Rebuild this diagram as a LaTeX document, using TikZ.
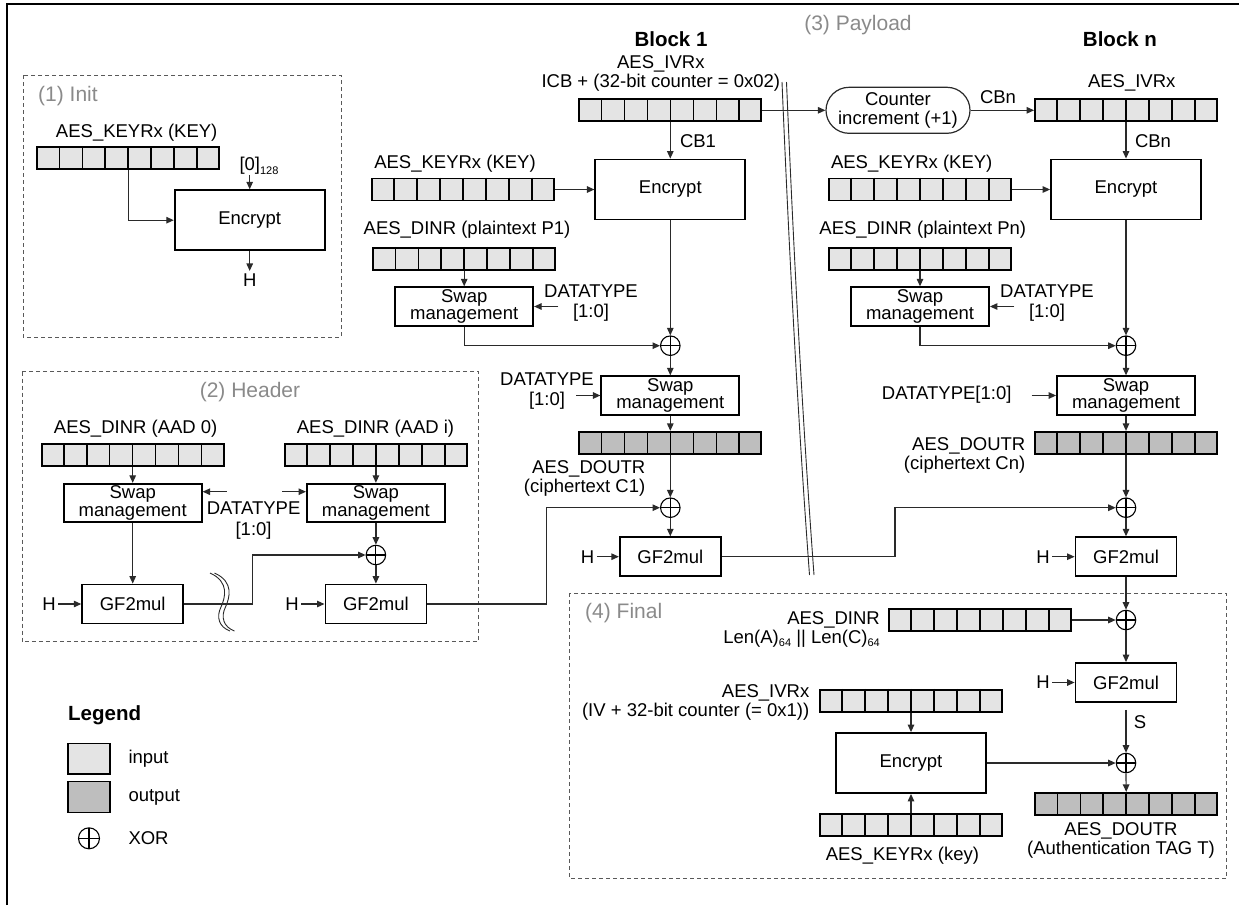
\documentclass[tikz,border=0pt]{standalone}
\usepackage{fontspec}
\setmainfont{Liberation Sans}
\usetikzlibrary{arrows.meta,calc,shapes.misc}
\definecolor{inpc}{HTML}{E4E4E4}
\definecolor{outc}{HTML}{BEBEBE}
\definecolor{ttlc}{HTML}{8A8A8A}
\definecolor{linec}{HTML}{2A2A2A}
\newcommand\myfs{\fontsize{18.5}{19}\selectfont}
\newcommand\mysub[1]{\raisebox{-0.35ex}{\fontsize{11}{11}\selectfont #1}}
\newcommand\myreg[4]{%
  \node[regn, fill=#4] (#1) at (#2,#3) {};
  \foreach \k in {1,...,7}{\draw[celln] ($(#1.north west)!\k/8!(#1.north east)$) -- ($(#1.south west)!\k/8!(#1.south east)$);}
}
\tikzset{
  tx/.style={inner sep=0pt, font=\myfs, align=center},
  dt/.style={inner sep=0pt, font=\fontsize{18.5}{20.5}\selectfont, align=center},
  hl/.style={inner sep=2.5pt, font=\myfs},
  bx/.style={draw=black, line width=1.8pt, inner sep=0pt, align=center, font=\myfs},
  encbox/.style={bx, minimum width=150pt, minimum height=60pt},
  swapbox/.style={bx, minimum width=138pt, minimum height=38.5pt, font=\fontsize{18.5}{17.3}\selectfont},
  gfbox/.style={bx, minimum width=101pt, minimum height=39pt},
  regn/.style={draw=black, line width=1.8pt, minimum width=182pt, minimum height=22pt, inner sep=0pt},
  celln/.style={draw=black, line width=1.5pt},
  xor/.style={circle, draw=black, line width=1.1pt, minimum size=19.5pt, inner sep=0pt,
    path picture={\draw[line width=1.1pt] (path picture bounding box.north) -- (path picture bounding box.south)
      (path picture bounding box.west) -- (path picture bounding box.east);}},
  arr/.style={draw=linec, line width=1.2pt, -{Triangle[length=7.5pt,width=6.5pt]}},
  ln/.style={draw=linec, line width=1pt},
  dbox/.style={draw=black!65, line width=1pt, dash pattern=on 4pt off 3pt},
  ttl/.style={inner sep=0pt, font=\fontsize{21}{21}\selectfont, text=ttlc},
  bld/.style={inner sep=0pt, font=\fontsize{20.5}{21}\selectfont\bfseries},
  cntbox/.style={rounded rectangle, draw=linec, line width=1.2pt, minimum width=144pt, minimum height=46pt, inner sep=0pt, align=center, font=\myfs}
}
\begin{document}
\begin{tikzpicture}[x=1pt,y=-1pt]
\useasboundingbox (0,0) rectangle (1239,905);
% outer frame
\draw[line width=2.8pt] (7,905) -- (7,4) -- (1239,4);
% dashed section boxes
\draw[dbox] (23,75) rectangle (341,337);
\draw[dbox] (22,371.5) rectangle (478.3,641.7);
\draw[dbox] (569.4,593.3) rectangle (1226.7,878.3);

% ---------------- (1) Init
\node[ttl, anchor=west] (tinit) at (38,96) {(1) Init};
\node[tx] (lireg) at (136.7,133) {AES\_KEYRx (KEY)};
\myreg{ireg}{128.2}{158.3}{inpc}
\node[encbox] (ienc) at (249.7,220.2) {Encrypt};
\node[tx] (zero) at (259,166) {[0]\mysub{128}};
\node[hl] (iH) at (249.7,280) {H};
\draw[arr] (ireg.south) |- (ienc.west);
\draw[arr] (zero.south -| ienc.north) -- (ienc.north);
\draw[arr] (ienc.south) -- (iH.north);

% ---------------- (2) Header
\node[ttl] (thdr) at (250,391.7) {(2) Header};
\node[tx] (lh0) at (135.7,428.3) {AES\_DINR (AAD 0)};
\node[tx] (lhi) at (375.5,428.3) {AES\_DINR (AAD i)};
\myreg{h0reg}{132.7}{455}{inpc}
\myreg{hireg}{375.9}{455}{inpc}
\node[swapbox] (h0sw) at (132.7,503) {Swap\\management};
\node[swapbox] (hisw) at (375.9,503) {Swap\\management};
\node[dt] (hdt) at (253.6,520.3) {DATATYPE\\{}[1:0]};
\coordinate (hdl) at (226.8,491.7);
\coordinate (hdr) at (282,491.7);
\draw[arr] (hdl) -- (hdl -| h0sw.east);
\draw[arr] (hdr) -- (hdr -| hisw.west);
\node[xor] (hx) at (375.9,555) {};
\node[gfbox] (h0gf) at (132.7,604) {GF2mul};
\node[gfbox] (higf) at (375.9,604) {GF2mul};
\node[hl] (hH0) at (49,604) {H};
\node[hl] (hHi) at (292,604) {H};
\draw[arr] (h0reg.south) -- (h0sw.north);
\draw[arr] (hireg.south) -- (hisw.north);
\draw[arr] (h0sw.south) -- (h0gf.north);
\draw[arr] (hisw.south) -- (hx.north);
\draw[arr] (hx.south) -- (higf.north);
\draw[arr] (hH0) -- (h0gf);
\draw[arr] (hHi) -- (higf);
\coordinate (hk) at (252.5,0);
\draw[arr] (h0gf.east) -| (hk |- hx.west) -- (hx.west);
% break mark
\draw[ln, line width=0.9pt] (210,573) .. controls (230,582) and (225,598) .. (221,607) .. controls (216,617) and (219,627) .. (230,631);
\draw[ln, line width=0.9pt] (214.5,573) .. controls (234.5,582) and (229.5,598) .. (225.5,607) .. controls (220.5,617) and (223.5,627) .. (234.5,631);

% ---------------- (3) Payload, Block 1
\node[ttl] (tpay) at (858,25) {(3) Payload};
\node[bld] (tb1) at (671,39) {Block 1};
\node[bld] (tbn) at (1120,39) {Block n};
\node[tx] (lb1iv) at (660.8,73.8) {AES\_IVRx\\ICB + (32-bit counter = 0x02)};
\myreg{b1iv}{670.3}{110.3}{inpc}
\node[encbox] (b1enc) at (670.3,189.5) {Encrypt};
\node[tx] (cb1) at (698,140.7) {CB1};
\node[tx] (lb1key) at (455,163.3) {AES\_KEYRx (KEY)};
\myreg{b1key}{462.9}{189.5}{inpc}
\node[tx] (lb1din) at (467,230) {AES\_DINR (plaintext P1)};
\myreg{b1din}{464.2}{258.8}{inpc}
\node[swapbox] (b1sw1) at (464.2,306.5) {Swap\\management};
\node[dt] (b1dt1) at (591,303) {DATATYPE\\{}[1:0]};
\coordinate (b1d1) at (558.3,306.5);
\node[xor] (b1x1) at (670.3,345.7) {};
\node[swapbox] (b1sw2) at (670.3,395.5) {Swap\\management};
\node[dt] (b1dt2) at (547,390.8) {DATATYPE\\{}[1:0]};
\coordinate (b1d2) at (576,395.5);
\myreg{b1out}{670.3}{442.8}{outc}
\node[tx, align=right, anchor=east] (lb1out) at (645.5,478.8) {AES\_DOUTR\\(ciphertext C1)};
\node[xor] (b1x2) at (670.3,507.7) {};
\node[gfbox] (b1gf) at (670.3,556.7) {GF2mul};
\node[hl] (b1H) at (587.5,556.7) {H};
\draw[arr] (b1iv.south) -- (b1enc.north);
\draw[arr] (b1key.east) -- (b1key.east -| b1enc.west);
\draw[arr] (b1din.south) -- (b1sw1.north);
\draw[arr] (b1d1) -- (b1sw1.east |- b1d1);
\draw[arr] (b1sw1.south) |- (b1x1.west);
\draw[arr] (b1enc.south) -- (b1x1.north);
\draw[arr] (b1x1.south) -- (b1sw2.north);
\draw[arr] (b1d2) -- (b1sw2.west |- b1d2);
\draw[arr] (b1sw2.south) -- (b1out.north);
\draw[arr] (b1out.south) -- (b1x2.north);
\draw[arr] (b1x2.south) -- (b1gf.north);
\draw[arr] (b1H) -- (b1gf);
\coordinate (hk2) at (546.7,0);
\draw[arr] (higf.east) -| (hk2 |- b1x2.west) -- (b1x2.west);

% payload break line
\draw[ln, line width=0.9pt] (782,82) .. controls (789,250) and (798,420) .. (809.5,575);
\draw[ln, line width=0.9pt] (786.5,82) .. controls (793.5,250) and (802.5,420) .. (814,575);

% ---------------- Block n
\node[cntbox] (cnt) at (898,110.3) {Counter\\increment (+1)};
\node[tx] (cbn1) at (998,97.3) {CBn};
\node[tx] (lbniv) at (1131.7,83.3) {AES\_IVRx};
\myreg{bniv}{1126}{110.3}{inpc}
\node[encbox] (bnenc) at (1126,189.5) {Encrypt};
\node[tx] (cbn2) at (1153,140.7) {CBn};
\node[tx] (lbnkey) at (911.7,163.3) {AES\_KEYRx (KEY)};
\myreg{bnkey}{920}{189.5}{inpc}
\node[tx] (lbndin) at (922.8,230) {AES\_DINR (plaintext Pn)};
\myreg{bndin}{920}{258.8}{inpc}
\node[swapbox] (bnsw1) at (920,306.5) {Swap\\management};
\node[dt] (bndt1) at (1047,303) {DATATYPE\\{}[1:0]};
\coordinate (bnd1) at (1014.3,306.5);
\node[xor] (bnx1) at (1126,345.7) {};
\node[swapbox] (bnsw2) at (1126,395.5) {Swap\\management};
\node[tx] (bndt2) at (946.7,395) {DATATYPE[1:0]};
\coordinate (bnd2) at (1031.7,395.5);
\myreg{bnout}{1126}{442.8}{outc}
\node[tx, align=right, anchor=east] (lbnout) at (1025.5,455.8) {AES\_DOUTR\\(ciphertext Cn)};
\node[xor] (bnx2) at (1126,507.7) {};
\node[gfbox] (bngf) at (1126,556.7) {GF2mul};
\node[hl] (bnH) at (1043,556.7) {H};
\draw[arr] (b1iv.east) -- (cnt.west);
\draw[arr] (cnt.east) -- (bniv.west);
\draw[arr] (bniv.south) -- (bnenc.north);
\draw[arr] (bnkey.east) -- (bnkey.east -| bnenc.west);
\draw[arr] (bndin.south) -- (bnsw1.north);
\draw[arr] (bnd1) -- (bnsw1.east |- bnd1);
\draw[arr] (bnsw1.south) |- (bnx1.west);
\draw[arr] (bnenc.south) -- (bnx1.north);
\draw[arr] (bnx1.south) -- (bnsw2.north);
\draw[arr] (bnd2) -- (bnsw2.west |- bnd2);
\draw[arr] (bnsw2.south) -- (bnout.north);
\draw[arr] (bnout.south) -- (bnx2.north);
\draw[arr] (bnx2.south) -- (bngf.north);
\draw[arr] (bnH) -- (bngf);
\coordinate (k1) at (895,0);
\draw[arr] (b1gf.east) -| (k1 |- bnx2.west) -- (bnx2.west);

% ---------------- (4) Final
\node[ttl, anchor=west] (tfin) at (585,613.3) {(4) Final};
\node[tx, align=right, anchor=east] (lfdin) at (880,629.5) {AES\_DINR\\Len(A)\mysub{64} || Len(C)\mysub{64}};
\myreg{fdin}{980}{620}{inpc}
\node[xor] (fx1) at (1126,620) {};
\node[gfbox] (fgf) at (1126,682.5) {GF2mul};
\node[hl] (fH) at (1043,682.5) {H};
\node[tx] (fS) at (1140,721.7) {S};
\node[xor] (fx2) at (1126,763) {};
\node[tx, align=right, anchor=east] (lfiv) at (809.5,702.8) {AES\_IVRx\\(IV + 32-bit counter (= 0x1))};
\myreg{fiv}{911}{700.8}{inpc}
\node[encbox] (fenc) at (911,763) {Encrypt};
\myreg{fkey}{911}{825.3}{inpc}
\node[tx] (lfkey) at (902.4,856) {AES\_KEYRx (key)};
\myreg{ftag}{1126.2}{803.8}{outc}
\node[tx] (lftag) at (1121,840) {AES\_DOUTR\\(Authentication TAG T)};
\draw[arr] (bngf.south) -- (fx1.north);
\draw[arr] (fdin.east) -- (fx1.west);
\draw[arr] (fx1.south) -- (fgf.north);
\draw[arr] (fH) -- (fgf);
\draw[arr] ([yshift=-7pt]fgf.south) -- (fx2.north);
\draw[arr] (fenc.east) -- (fx2.west);
\draw[arr] (fiv.south) -- (fenc.north);
\draw[arr] (fkey.north) -- (fenc.south);
\draw[arr] (fx2.south) -- (ftag.north);

% ---------------- Legend
\node[bld, anchor=west] (tleg) at (68,715) {Legend};
\node[draw=black, line width=1.4pt, fill=inpc, minimum width=42pt, minimum height=30.5pt, inner sep=0pt] (leginp) at (89,758.7) {};
\node[draw=black, line width=1.4pt, fill=outc, minimum width=42pt, minimum height=30.5pt, inner sep=0pt] (legout) at (89,797) {};
\node[xor, minimum size=21pt] (legx) at (89,838.3) {};
\node[tx, anchor=west] (linp) at (128.3,759) {input};
\node[tx, anchor=west] (lout) at (128.3,797.3) {output};
\node[tx, anchor=west] (lxor) at (128.3,838.3) {XOR};
\end{tikzpicture}
\end{document}
